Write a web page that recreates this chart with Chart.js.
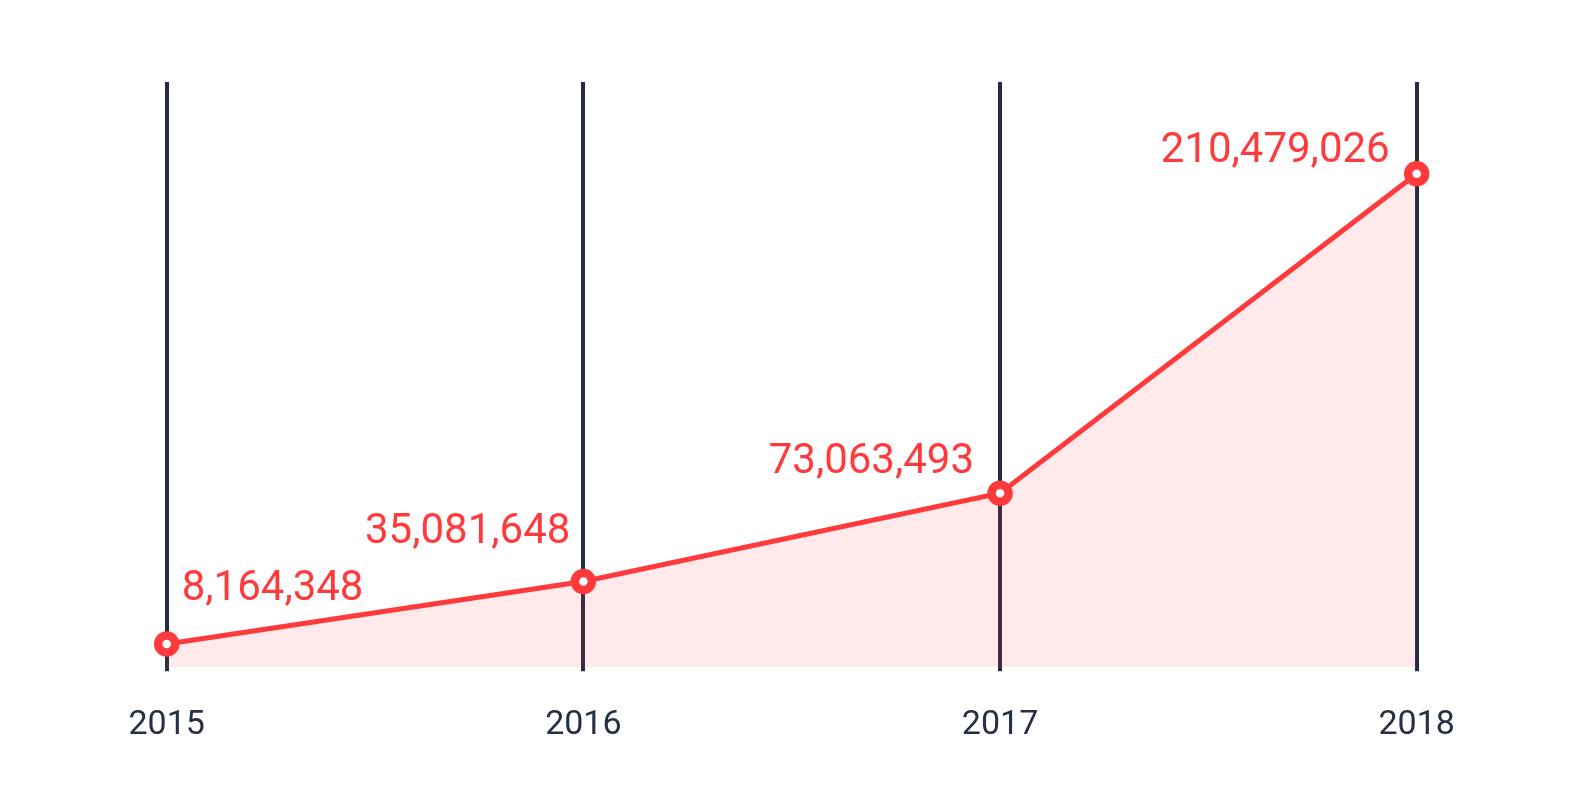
<!DOCTYPE html>
<html>
<head>
<meta charset="utf-8">
<script src="https://cdn.jsdelivr.net/npm/chart.js@4"></script>
<style>
  html, body { margin: 0; padding: 0; background: #ffffff; }
  #wrap { width: 1584px; height: 792px; }
</style>
</head>
<body>
<div id="wrap"><canvas id="c" width="1584" height="792"></canvas></div>
<script>
const categories = ['2015', '2016', '2017', '2018'];
const seriesValues = [8164348, 35081648, 73063493, 210479026];

const RED = '#ff3a3d';
const NAVY = '#222d3f';

const labelStyle = {
  align: ['left', 'right', 'right', 'right'],
  dx: [15, -13, -26, -27],
  dy: [-44, -38, -20, -12]
};

const valueLabels = {
  id: 'valueLabels',
  afterDatasetsDraw(chart) {
    const ctx = chart.ctx;
    const meta = chart.getDatasetMeta(0);
    ctx.save();
    ctx.font = '42px Roboto';
    ctx.fillStyle = RED;
    ctx.textBaseline = 'alphabetic';
    meta.data.forEach((pt, i) => {
      const v = chart.data.datasets[0].data[i];
      ctx.textAlign = labelStyle.align[i];
      ctx.fillText(v.toLocaleString('en-US'), pt.x + labelStyle.dx[i], pt.y + labelStyle.dy[i]);
    });
    ctx.restore();
  }
};

new Chart(document.getElementById('c'), {
  type: 'line',
  data: {
    labels: categories,
    datasets: [{
      data: seriesValues,
      borderColor: RED,
      borderWidth: 5,
      backgroundColor: 'rgba(255, 58, 61, 0.11)',
      fill: 'start',
      tension: 0,
      pointRadius: 8.5,
      pointHoverRadius: 8.5,
      pointBorderWidth: 8.5,
      pointBackgroundColor: '#ffffff',
      pointBorderColor: RED
    }]
  },
  options: {
    responsive: false,
    animation: false,
    devicePixelRatio: 1,
    layout: { padding: { left: 166.7, right: 167.3, top: 82, bottom: 12 } },
    plugins: { legend: { display: false }, tooltip: { enabled: false } },
    scales: {
      x: {
        offset: false,
        border: { display: false },
        grid: { color: NAVY, lineWidth: 4, drawTicks: true, tickLength: 4, tickColor: NAVY },
        ticks: { color: '#253044', font: { family: 'Roboto', size: 34 }, padding: 34, maxRotation: 0 }
      },
      y: {
        display: false,
        min: -1800000,
        max: 250000000
      }
    }
  },
  plugins: [valueLabels]
});
</script>
</body>
</html>
